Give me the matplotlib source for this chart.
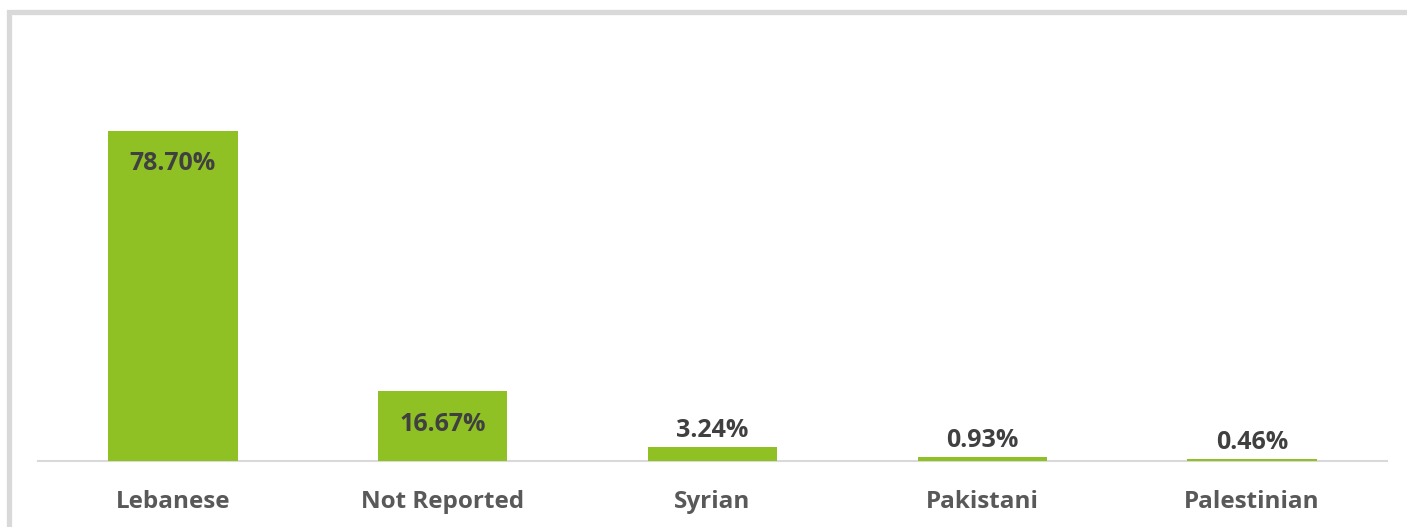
import matplotlib
matplotlib.use("Agg")
import matplotlib.pyplot as plt
from matplotlib.patches import Rectangle

categories = ["Lebanese", "Not Reported", "Syrian", "Pakistani", "Palestinian"]
values = [78.70, 16.67, 3.24, 0.93, 0.46]
labels = ["78.70%", "16.67%", "3.24%", "0.93%", "0.46%"]

W, H = 1407, 527
fig = plt.figure(figsize=(W / 100, H / 100), dpi=100)
fig.patch.set_facecolor("white")

# outer light-gray border (clipped at right and bottom as in reference)
fig.patches.append(Rectangle((9 / W, -0.05), 1.2, 1 - 12 / H + 0.05,
                             transform=fig.transFigure, fill=False,
                             edgecolor="#d9d9d9", linewidth=3.8, zorder=0))

left, right = 38 / W, 1387 / W
bottom = 1 - 461 / H
ymax = 100
top_px = 461 - ymax * (330 / 78.70)
ax = fig.add_axes([left, bottom, right - left, (461 - top_px) / H])
ax.set_xlim(-0.5, len(categories) - 0.5)
ax.set_ylim(0, ymax)

x = range(len(categories))
ax.bar(x, values, width=0.48, color="#8FC125", zorder=3)

font = "Open Sans"
for i, (v, lab) in enumerate(zip(values, labels)):
    if v > 10:
        ax.annotate(lab, (i, v), xytext=(0, -33), textcoords="offset pixels",
                    ha="center", va="center", fontsize=18, fontweight="bold",
                    color="#404040", family=font)
    else:
        ax.annotate(lab, (i, v), xytext=(0, 4), textcoords="offset pixels",
                    ha="center", va="bottom", fontsize=18, fontweight="bold",
                    color="#404040", family=font)

ax.set_xticks(list(x))
ax.set_xticklabels(categories, fontsize=17.5, fontweight="bold", color="#595959",
                   family=font)
ax.tick_params(axis="x", length=0, pad=21)
ax.set_yticks([])
for s in ["top", "right", "left"]:
    ax.spines[s].set_visible(False)
ax.spines["bottom"].set_color("#d9d9d9")
ax.spines["bottom"].set_linewidth(1.5)
ax.spines["bottom"].set_zorder(2)

fig.savefig("out.png", dpi=100)
